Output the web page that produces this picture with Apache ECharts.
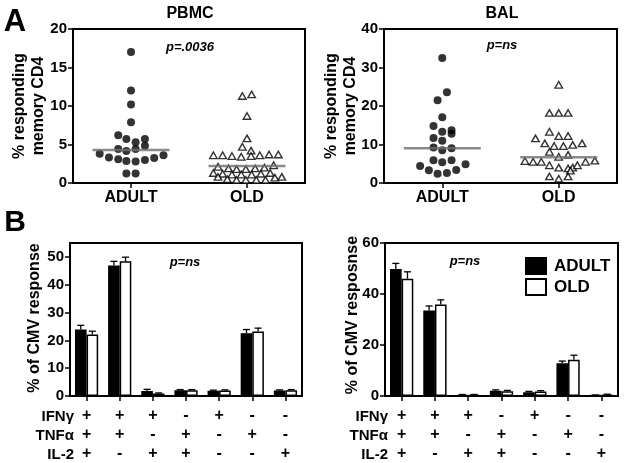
<!DOCTYPE html>
<html><head><meta charset="utf-8">
<script src="https://cdn.jsdelivr.net/npm/echarts@6/dist/echarts.min.js"></script>
<style>html,body{margin:0;padding:0;background:#fff}#c{width:624px;height:463px}</style>
</head><body><div id="c"></div><script>
// ---------- Panel A data ----------
const groups = ['ADULT', 'OLD'];
// PBMC
const pbmcAdultY = [17.0, 12.0, 10.2, 7.9, 6.2, 5.7, 5.7, 5.3, 4.85, 4.4, 4.4, 4.15, 3.8, 3.6, 3.3, 3.25, 3.1, 3.0, 2.85, 2.8, 1.25, 1.25];
const pbmcAdultJitter = [0, 0, 0, 0, -0.11, -0.04, 0.12, 0.04, 0.12, -0.11, 0.04, -0.04, -0.27, 0.28, -0.19, 0.2, -0.11, 0.12, -0.04, 0.04, -0.04, 0.04];
const pbmcOldY = [11.3, 11.5, 8.7, 5.8, 4.7, 4.2, 3.6, 3.6, 3.5, 3.4, 3.5, 3.6, 3.7, 3.7, 2.1, 1.9, 1.8, 1.8, 1.9, 2.0, 2.3, 1.3, 1.2, 1.1, 1.1, 1.1, 1.2, 1.3, 0.8, 0.5, 0.4, 0.4, 0.4, 0.4, 0.7, 0.8];
const pbmcOldJitter = [-0.04, 0.04, 0, 0, -0.04, 0.035, -0.29, -0.21, -0.13, -0.05, 0.035, 0.11, 0.19, 0.27, -0.25, -0.16, -0.09, -0.01, 0.07, 0.15, 0.23, -0.29, -0.21, -0.13, -0.05, 0.04, 0.12, 0.2, -0.25, -0.17, -0.09, -0.01, 0.08, 0.16, 0.24, 0.3];
const pbmcMedians = [4.3, 2.2];
// BAL
const balAdultY = [32.5, 23.6, 21.5, 17.1, 14.8, 13.3, 13.7, 12.8, 11.7, 11.0, 9.2, 8.5, 9.0, 5.9, 5.4, 5.9, 4.4, 3.3, 4.9, 3.4, 2.4, 2.6];
const balAdultJitter = [0, 0.04, -0.04, 0, -0.075, 0, 0.08, 0.08, -0.075, 0, -0.075, 0, 0.08, -0.075, 0, 0.08, -0.19, -0.115, 0.2, 0.12, -0.04, 0.04];
const balOldY = [25.5, 18.2, 18.2, 18.2, 13.3, 12.2, 12.2, 11.6, 10.3, 10.3, 9.6, 9.6, 9.9, 8.1, 6.8, 7.3, 5.7, 5.5, 5.5, 5.5, 5.8, 4.6, 4.0, 3.8, 4.0, 4.6, 3.2, 1.7, 1.1, 1.7];
const balOldJitter = [0, -0.08, 0, 0.08, -0.08, 0, 0.08, -0.2, 0.2, -0.12, -0.04, 0.04, 0.12, -0.08, 0, 0.08, -0.29, -0.22, -0.15, 0.23, 0.31, -0.08, 0, 0.08, 0.12, 0.16, 0.1, -0.08, 0, 0.08];
const balMedians = [9.0, 6.7];

// ---------- Panel B data ----------
const ifn = ['+', '+', '+', '-', '+', '-', '-'];
const tnf = ['+', '+', '-', '+', '-', '+', '-'];
const il2 = ['+', '-', '+', '+', '-', '-', '+'];
const rowLabels = ['IFNγ', 'TNFα', 'IL-2'];
const combos = ifn.map((v, i) => v + tnf[i] + il2[i]);
const pbmcBarAdult = [23.9, 46.9, 1.8, 2.1, 1.9, 22.6, 2.0];
const pbmcBarAdultErr = [1.5, 1.5, 0.6, 0.2, 0.2, 1.3, 0.2];
const pbmcBarOld = [22.1, 48.4, 0.9, 2.1, 2.0, 23.2, 2.1];
const pbmcBarOldErr = [1.2, 1.5, 0.2, 0.2, 0.2, 1.2, 0.2];
const balBarAdult = [49.8, 33.5, 0.4, 2.1, 1.5, 12.8, 0.3];
const balBarAdultErr = [2.2, 1.8, 0.2, 0.3, 0.3, 0.9, 0.1];
const balBarOld = [46.0, 35.9, 0.4, 1.9, 1.8, 14.2, 0.5];
const balBarOldErr = [2.7, 1.8, 0.2, 0.3, 0.3, 1.8, 0.2];

const FONT = '"Liberation Sans", Arial, sans-serif';
const chart = echarts.init(document.getElementById('c'), null, {renderer: 'canvas'});

const pts = (ys, jit, g) => ys.map((y, i) => [g + 0.5 + jit[i], y]);

const gridBase = {show: true, borderColor: '#000', borderWidth: 2, backgroundColor: 'transparent', containLabel: false};
const grids = [
  Object.assign({left: 73, top: 29, width: 232, height: 154}, gridBase),
  Object.assign({left: 384, top: 29, width: 233, height: 154}, gridBase),
  Object.assign({left: 70, top: 243, width: 232, height: 154}, gridBase),
  Object.assign({left: 385, top: 243, width: 233, height: 154}, gridBase)
];

const axLine = {show: true, lineStyle: {color: '#000', width: 2}};
const axTick = {show: true, length: 5, lineStyle: {color: '#000', width: 1.5}};
const labelStyle = {color: '#000', fontFamily: FONT, fontWeight: 'bold'};

const xAxes = [
  {type: 'category', gridIndex: 0, data: groups, axisLine: axLine, axisTick: Object.assign({alignWithLabel: true}, axTick),
    axisLabel: Object.assign({fontSize: 16, margin: 7}, labelStyle)},
  {type: 'category', gridIndex: 1, data: groups, axisLine: axLine, axisTick: Object.assign({alignWithLabel: true}, axTick),
    axisLabel: Object.assign({fontSize: 16, margin: 7}, labelStyle)},
  {type: 'value', gridIndex: 0, min: 0, max: 2, show: false},
  {type: 'value', gridIndex: 1, min: 0, max: 2, show: false},
  {type: 'category', gridIndex: 2, data: combos, axisLine: axLine, axisTick: Object.assign({alignWithLabel: true}, axTick),
    axisLabel: Object.assign({fontSize: 16, margin: 10, lineHeight: 19, interval: 0,
      formatter: (v, i) => ifn[i] + '\n' + tnf[i] + '\n' + il2[i]}, labelStyle)},
  {type: 'category', gridIndex: 3, data: combos, axisLine: axLine, axisTick: Object.assign({alignWithLabel: true}, axTick),
    axisLabel: Object.assign({fontSize: 16, margin: 10, lineHeight: 19, interval: 0,
      formatter: (v, i) => ifn[i] + '\n' + tnf[i] + '\n' + il2[i]}, labelStyle)}
];
const yBase = (gi, max, interval, fs) => ({type: 'value', gridIndex: gi, min: 0, max: max, interval: interval,
  axisLine: axLine, axisTick: axTick, splitLine: {show: false},
  axisLabel: Object.assign({fontSize: fs, margin: 6, showMaxLabel: max % interval === 0}, labelStyle)});
const yAxes = [yBase(0, 20, 5, 15), yBase(1, 40, 10, 15), yBase(2, 55, 10, 15), yBase(3, 60, 20, 15)];

const dotSeries = (name, xi, yi, data, filled) => ({
  type: 'scatter', name: name, xAxisIndex: xi, yAxisIndex: yi, data: data,
  symbol: filled ? 'circle' : 'triangle', symbolSize: filled ? 8 : [7.5, 6.5],
  itemStyle: filled ? {color: '#000'} : {color: '#fff', borderColor: '#000', borderWidth: 1.4},
  silent: true, z: 3
});
const medSeries = (name, xi, yi, meds) => ({
  type: 'scatter', name: name, xAxisIndex: xi, yAxisIndex: yi,
  data: meds.map((m, g) => [g + 0.5, m]), symbol: 'rect', symbolSize: [77, 2.5],
  itemStyle: {color: '#6e6e6e'}, silent: true, z: 4
});

function errRender(side) {
  return function (params, api) {
    const i = api.value(0), v = api.value(1), e = api.value(2);
    const p0 = api.coord([i, v]);
    const p1 = api.coord([i, v + e]);
    const cw = api.size([1, 0])[0];
    const bw = cw * 0.35;
    const x = p0[0] + side * bw / 2;
    const cap = 3.5;
    return {type: 'group', children: [
      {type: 'line', shape: {x1: x, y1: p0[1], x2: x, y2: p1[1]}, style: {stroke: '#000', lineWidth: 1.3}},
      {type: 'line', shape: {x1: x - cap, y1: p1[1], x2: x + cap, y2: p1[1]}, style: {stroke: '#000', lineWidth: 1.3}}
    ]};
  };
}
const barSeries = (name, xi, yi, vals, filled) => ({
  type: 'bar', name: name, xAxisIndex: xi, yAxisIndex: yi, data: vals,
  barGap: '0%', barCategoryGap: '30%',
  itemStyle: filled ? {color: '#000', borderColor: '#000', borderWidth: 1.5} : {color: '#fff', borderColor: '#000', borderWidth: 1.5},
  silent: true, z: 2
});
const errSeries = (name, xi, yi, vals, errs, side) => ({
  type: 'custom', name: name, xAxisIndex: xi, yAxisIndex: yi,
  data: vals.map((v, i) => [i, v, errs[i]]), renderItem: errRender(side), silent: true, z: 3
});

const txt = (text, x, y, size, opts) => Object.assign({type: 'text', x: x, y: y,
  style: Object.assign({text: text, fill: '#000', font: 'bold ' + size + 'px ' + FONT, align: 'center', verticalAlign: 'middle'}, opts && opts.style || {})},
  opts && opts.el || {});

const graphics = [
  txt('A', 15, 22, 31),
  txt('B', 15, 223, 30),
  txt('PBMC', 190, 14, 16),
  txt('BAL', 502, 14, 16),
  txt('p=.0036', 190, 47, 13, {style: {font: 'italic bold 13px ' + FONT}}),
  txt('p=ns', 502, 45, 13, {style: {font: 'italic bold 13px ' + FONT}}),
  txt('p=ns', 185, 262, 13, {style: {font: 'italic bold 13px ' + FONT}}),
  txt('p=ns', 465, 261, 13, {style: {font: 'italic bold 13px ' + FONT}}),
  txt('% responding\nmemory CD4', 29, 106, 16, {style: {lineHeight: 19}, el: {rotation: Math.PI / 2}}),
  txt('% responding\nmemory CD4', 341, 106, 16, {style: {lineHeight: 19}, el: {rotation: Math.PI / 2}}),
  txt('% of CMV response', 35, 318, 16, {el: {rotation: Math.PI / 2}}),
  txt('% of CMV resposnse', 353, 315, 16, {el: {rotation: Math.PI / 2}})
];
rowLabels.forEach((t, r) => {
  graphics.push(txt(t, 74, 417 + r * 19, 15, {style: {align: 'right'}}));
  graphics.push(txt(t, 388, 417 + r * 19, 15, {style: {align: 'right'}}));
});

chart.setOption({
  animation: false,
  backgroundColor: '#fff',
  grid: grids,
  xAxis: xAxes,
  yAxis: yAxes,
  legend: {
    data: [{name: 'ADULT', icon: 'rect'}, {name: 'OLD', icon: 'rect'}], orient: 'vertical', left: 525, top: 257,
    padding: 0, itemWidth: 20, itemHeight: 16, itemGap: 3, selectedMode: false,
    textStyle: {fontSize: 17, fontWeight: 'bold', fontFamily: FONT, color: '#000', padding: [0, 0, 0, 3]}
  },
  series: [
    barSeries('ADULT', 4, 2, pbmcBarAdult, true),
    barSeries('OLD', 4, 2, pbmcBarOld, false),
    errSeries('errA1', 4, 2, pbmcBarAdult, pbmcBarAdultErr, -1),
    errSeries('errO1', 4, 2, pbmcBarOld, pbmcBarOldErr, 1),
    barSeries('ADULT', 5, 3, balBarAdult, true),
    barSeries('OLD', 5, 3, balBarOld, false),
    errSeries('errA2', 5, 3, balBarAdult, balBarAdultErr, -1),
    errSeries('errO2', 5, 3, balBarOld, balBarOldErr, 1),
    dotSeries('PBMC adult', 2, 0, pts(pbmcAdultY, pbmcAdultJitter, 0), true),
    dotSeries('PBMC old', 2, 0, pts(pbmcOldY, pbmcOldJitter, 1), false),
    medSeries('PBMC median', 2, 0, pbmcMedians),
    dotSeries('BAL adult', 3, 1, pts(balAdultY, balAdultJitter, 0), true),
    dotSeries('BAL old', 3, 1, pts(balOldY, balOldJitter, 1), false),
    medSeries('BAL median', 3, 1, balMedians)
  ],
  graphic: graphics
});
</script></body></html>
